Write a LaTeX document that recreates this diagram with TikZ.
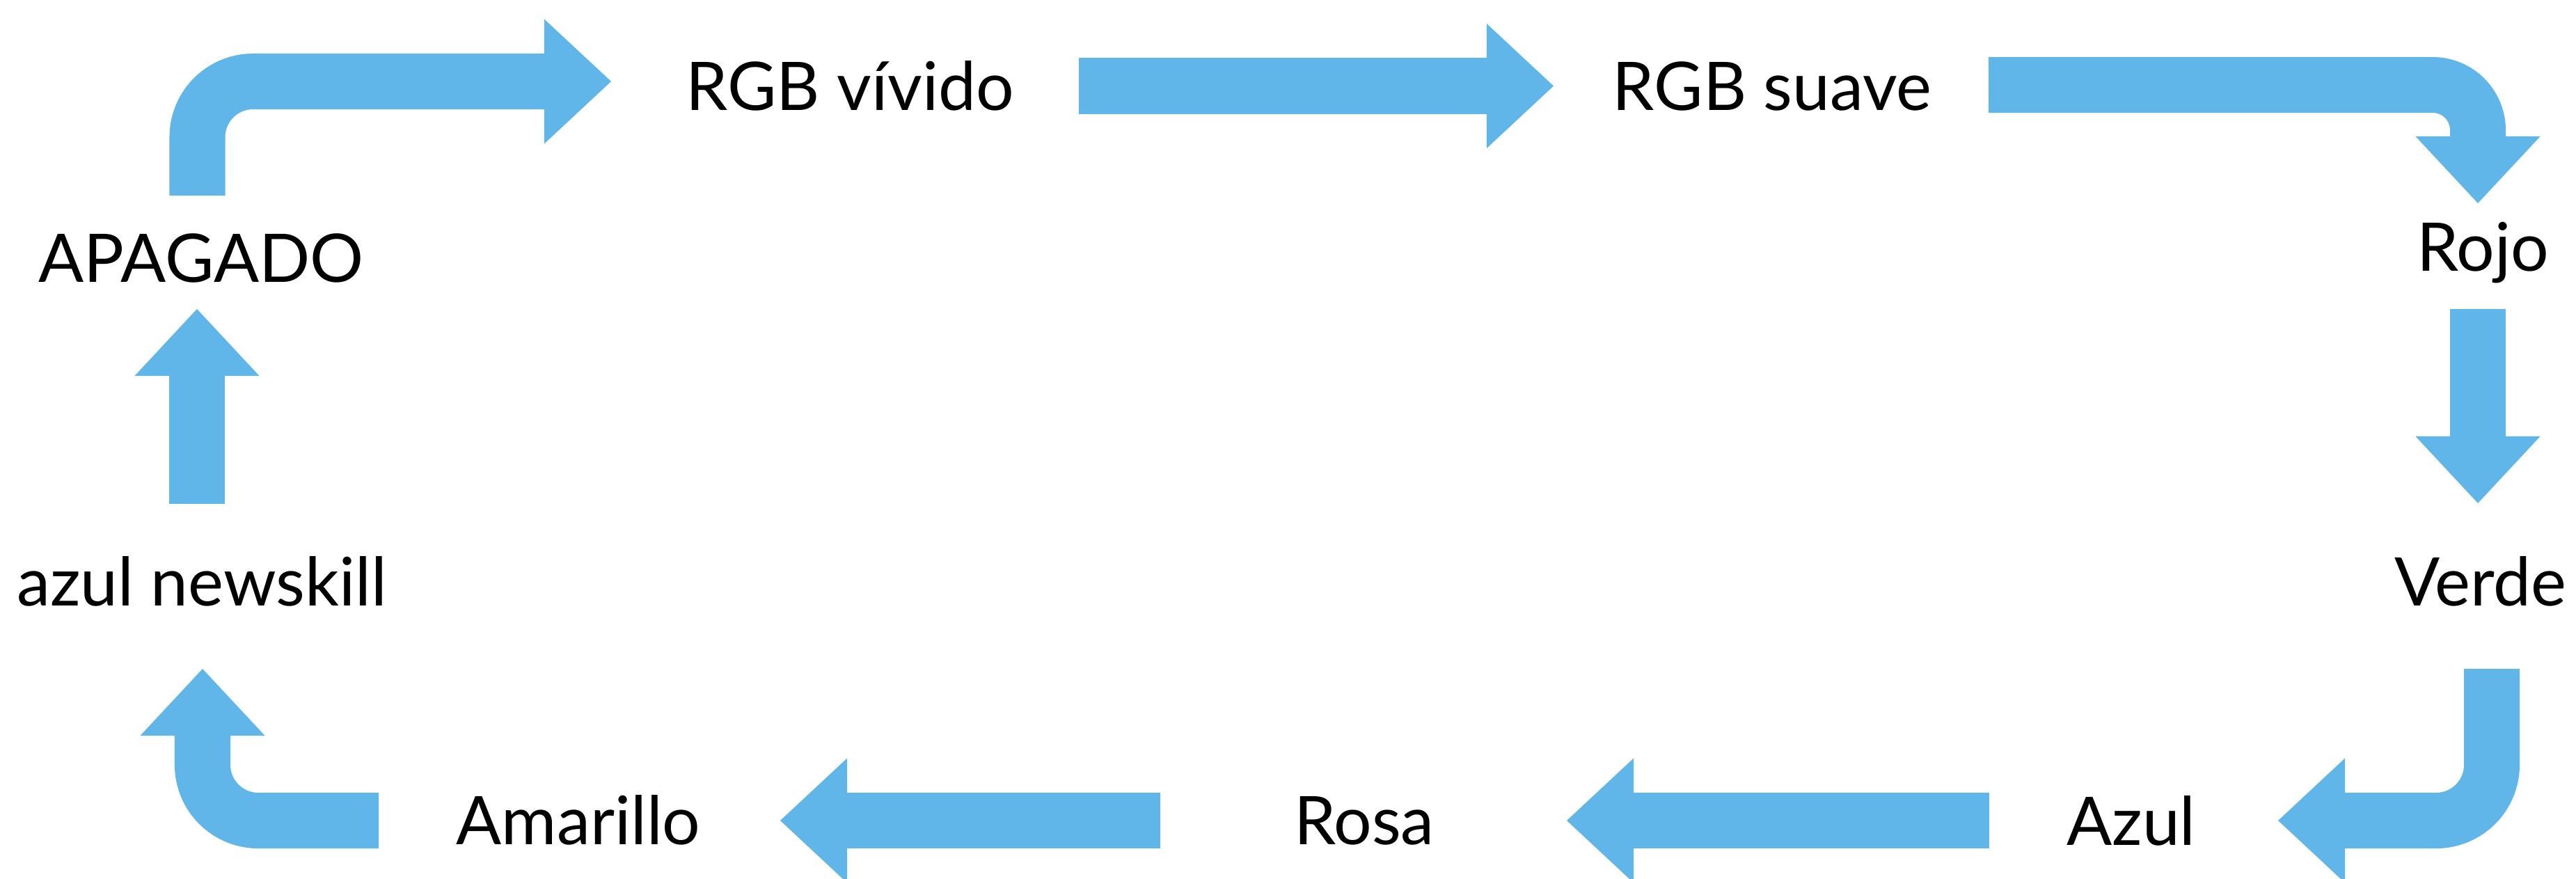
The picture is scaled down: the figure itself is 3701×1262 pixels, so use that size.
\documentclass[tikz,border=0pt]{standalone}
\usepackage{fontspec}
\setmainfont{Lato}
\usepackage{tikz}
\usetikzlibrary{arrows.meta}
\definecolor{flechazul}{HTML}{60B6E9}

\begin{document}
\begin{tikzpicture}[x=0.01cm, y=-0.01cm,
    estado/.style={anchor=base, inner sep=0pt, font=\fontsize{27.4}{32}\selectfont},
    flujo/.style={draw=flechazul, line width=0.8cm,
      -{Triangle[length=0.96cm, width=1.79cm, line width=0pt]}}]

      \useasboundingbox (0,0) rectangle (3701,1262);

      \def\rad{0.8cm}

      \foreach \nm/\px/\py/\txt in {apagado/289/405/APAGADO, vivido/1221/158/RGB vívido,
          suave/2546/158/RGB suave, rojo/3567/389/Rojo, verde/3564/870/Verde,
          azul/3062/1214/Azul, rosa/1960/1213/Rosa, amarillo/831/1213/Amarillo,
          newskill/290/870/azul newskill}{
        \node[estado] (\nm) at (\px,\py) {\txt};
      }

      \draw[flujo, rounded corners=\rad]
        ([shift={(-5.5,-124)}]apagado.base) |- ([shift={(-343,-41)}]vivido.base);
      \draw[flujo]
        ([shift={(329,-34.5)}]vivido.base) -- ([shift={(-314,-34.5)}]suave.base);
      \draw[flujo, rounded corners=0.65cm]
        ([shift={(311,-36)}]suave.base) -| ([shift={(-7,-97)}]rojo.base);
      \draw[flujo]
        ([shift={(-7,55)}]rojo.base) -- ([shift={(-4,-147)}]verde.base);
      \draw[flujo, rounded corners=\rad]
        ([shift={(16,91)}]verde.base) |- ([shift={(211,-35)}]azul.base);
      \draw[flujo]
        ([shift={(-204,-35)}]azul.base) -- ([shift={(291,-34)}]rosa.base);
      \draw[flujo]
        ([shift={(-293,-34)}]rosa.base) -- ([shift={(290,-34)}]amarillo.base);
      \draw[flujo, rounded corners=\rad]
        ([shift={(-287,-34)}]amarillo.base) -| ([shift={(1,91)}]newskill.base);
      \draw[flujo]
        ([shift={(-7,-146)}]newskill.base) -- ([shift={(-6,39)}]apagado.base);

    \end{tikzpicture}
\end{document}
